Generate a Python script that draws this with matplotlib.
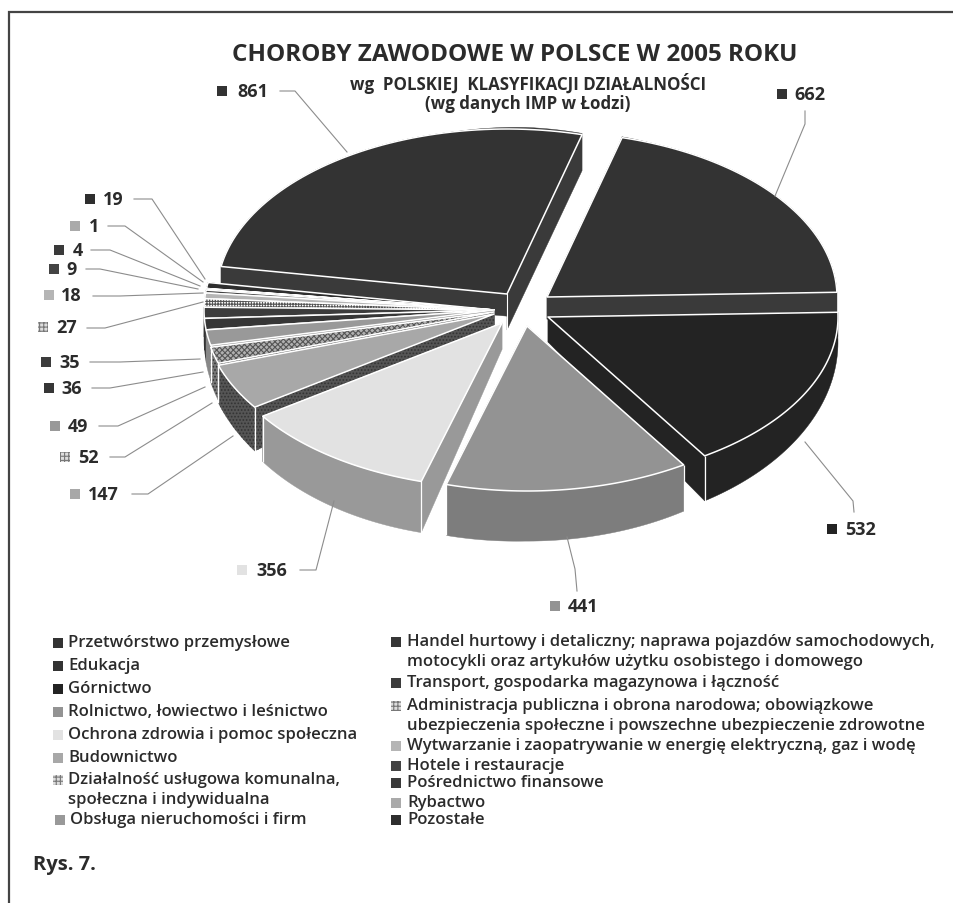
import numpy as np
import matplotlib
matplotlib.use("Agg")
import matplotlib.pyplot as plt
from matplotlib.patches import Polygon, Rectangle

plt.rcParams['font.family'] = ['Open Sans', 'DejaVu Sans']
plt.rcParams['hatch.linewidth'] = 0.8

categories = [
    "Przetwórstwo przemysłowe", "Edukacja", "Górnictwo",
    "Rolnictwo, łowiectwo i leśnictwo", "Ochrona zdrowia i pomoc społeczna",
    "Budownictwo", "Działalność usługowa komunalna,\nspołeczna i indywidualna",
    "Obsługa nieruchomości i firm",
    "Handel hurtowy i detaliczny; naprawa pojazdów samochodowych,\nmotocykli oraz artykułów użytku osobistego i domowego",
    "Transport, gospodarka magazynowa i łączność",
    "Administracja publiczna i obrona narodowa; obowiązkowe\nubezpieczenia społeczne i powszechne ubezpieczenie zdrowotne",
    "Wytwarzanie i zaopatrywanie w energię elektryczną, gaz i wodę",
    "Hotele i restauracje", "Pośrednictwo finansowe", "Rybactwo", "Pozostałe",
]
values = [861, 662, 532, 441, 356, 147, 52, 49, 36, 35, 27, 18, 9, 4, 1, 19]

# styles, same order as values
top_colors = ['#333333', '#333333', '#232323', '#939393', '#e2e2e2', '#a8a8a8', '#b0b0b0', '#999999',
              '#363636', '#3c3c3c', '#ffffff', '#b5b5b5', '#444444', '#3a3a3a', '#aaaaaa', '#2e2e2e']
wall_colors = ['#3a3a3a', '#3a3a3a', '#232323', '#7d7d7d', '#999999', '#555555', '#777777', '#888888',
               '#333333', '#333333', '#999999', '#999999', '#444444', '#3a3a3a', '#999999', '#2e2e2e']
top_hatch = [None, None, None, None, None, None, 'xxxxxx', None,
             None, None, '++++++', None, None, None, None, None]
wall_hatch = [None, None, None, None, None, '.....', '.....', None,
              '.....', None, None, None, None, None, None, None]
offsets = [(-18, -20), (22, -17), (23, 3), (2, 12), (-23, 9), (-31, 0), (-31, -2), (-31, -4),
           (-31, -4), (-31, -4), (-31, -4), (-31, -4), (-31, -4), (-31, -4), (-31, -4), (-31, -4)]
draw_order = [0, 1, 15, 14, 13, 12, 11, 10, 9, 8, 7, 6, 2, 5, 4, 3]

# layout in image pixels
CX, CY, RX, RY = 525, 315, 290, 165
START = -80.4
BACK_DEPTH = 36

label_pos = [(222, 237, 92), (782, 794, 95), (832, 845, 530), (555, 568, 607), (242, 256, 571),
             (75, 88, 495), (65, 78, 458), (55, 68, 427), (49, 61, 389), (46, 59, 363),
             (43, 56, 328), (49, 61, 296), (54, 66, 270), (59, 73, 251), (75, 89, 227), (90, 103, 200)]
leaders = [
    [(280, 92), (295, 92), (347, 153)],
    [(805, 112), (805, 125), (775, 197)],
    [(854, 513), (853, 502), (805, 443)],
    [(577, 592), (575, 570), (567, 538)],
    [(300, 571), (316, 571), (334, 502)],
    [(132, 495), (148, 495), (233, 437)],
    [(110, 458), (125, 458), (212, 404)],
    [(99, 427), (118, 427), (205, 388)],
    [(92, 389), (110, 389), (203, 373)],
    [(90, 363), (120, 363), (200, 360)],
    [(87, 329), (105, 329), (203, 303)],
    [(93, 297), (120, 297), (203, 294)],
    [(86, 270), (100, 270), (198, 290)],
    [(91, 251), (110, 251), (200, 287)],
    [(108, 227), (125, 227), (203, 283)],
    [(134, 200), (152, 200), (205, 280)],
]
legend_pos = [(58, 68, 644), (58, 68, 667), (58, 68, 690), (58, 68, 713), (58, 68, 736), (58, 68, 759),
              (58, 68, 781), (60, 70, 821), (396, 407, 643), (396, 407, 684), (396, 407, 707),
              (396, 407, 747), (396, 407, 767), (396, 407, 784), (396, 407, 804), (396, 407, 821)]


def depth(x, y):
    return 0.144 * (y - 144) + 6 * np.clip((525 - x) / 260, 0, 1)


def patch(ax, pts, face, hatch, hatch_color='#333333'):
    if hatch:
        ax.add_patch(Polygon(pts, closed=True, facecolor=face, edgecolor=hatch_color, hatch=hatch, linewidth=0))
    else:
        ax.add_patch(Polygon(pts, closed=True, facecolor=face, edgecolor=face, linewidth=0.3))


def draw_slice(ax, i, t0, t1):
    ax_x = CX + offsets[i][0]
    ax_y = CY + offsets[i][1]
    t = np.radians(np.linspace(t0, t1, 60))
    rx = ax_x + RX * np.sin(t)
    ry = ax_y - RY * np.cos(t)

    # rim wall
    rim_d = depth(rx, ry)
    rim = list(zip(rx, ry)) + list(zip(rx[::-1], (ry + rim_d)[::-1]))
    patch(ax, rim, wall_colors[i], wall_hatch[i])

    # radial walls
    for k, (ex, ey) in enumerate([(rx[0], ry[0]), (rx[-1], ry[-1])]):
        if i == 0 and k == 1:
            d0 = d1 = BACK_DEPTH
        else:
            d0, d1 = depth(ax_x, ax_y), depth(ex, ey)
        patch(ax, [(ax_x, ax_y), (ex, ey), (ex, ey + d1), (ax_x, ax_y + d0)], wall_colors[i], wall_hatch[i])
        if ey > ax_y + 20:
            ax.plot([ex, ex], [ey, ey + d1], color='white', lw=0.9, solid_capstyle='butt')
    if i == 0:
        ax.plot([ax_x, ax_x], [ax_y, ax_y + BACK_DEPTH], color='white', lw=0.8)

    # top surface
    top = [(ax_x, ax_y)] + list(zip(rx, ry))
    patch(ax, top, top_colors[i], top_hatch[i], '#555555')
    ax.add_patch(Polygon(top, closed=True, fill=False, edgecolor='white', linewidth=1.1, joinstyle='round'))


fig = plt.figure(figsize=(9.54, 9.04), dpi=100)
ax = fig.add_axes([0, 0, 1, 1])
ax.set_xlim(0, 954)
ax.set_ylim(904, 0)
ax.axis('off')

# frame
ax.plot([9, 9, 954], [904, 13, 13], color='#444444', lw=1.6, solid_joinstyle='miter')

angles = START + np.cumsum([0] + values) / sum(values) * 360
for i in draw_order:
    draw_slice(ax, i, angles[i], angles[i + 1])

TEXT = '#2b2b2b'
ax.text(515, 55, "CHOROBY ZAWODOWE W POLSCE W 2005 ROKU", ha='center', va='center',
        fontsize=17.5, fontweight='bold', color=TEXT)
ax.text(528, 83, "wg  POLSKIEJ  KLASYFIKACJI DZIAŁALNOŚCI", ha='center', va='center',
        fontsize=12.2, fontweight='bold', color=TEXT)
ax.text(528, 104, "(wg danych IMP w Łodzi)", ha='center', va='center',
        fontsize=12.2, fontweight='bold', color=TEXT)


def swatch(ax, x, y, i):
    s = 10
    if top_hatch[i]:
        ax.add_patch(Rectangle((x - s / 2, y - s / 2), s, s, facecolor='#dddddd', edgecolor='#777777',
                               hatch='++++', linewidth=0))
    else:
        ax.add_patch(Rectangle((x - s / 2, y - s / 2), s, s, facecolor=top_colors[i], linewidth=0))


for i, v in enumerate(values):
    sx, tx, y = label_pos[i]
    swatch(ax, sx, y, i)
    ax.text(tx, y, str(v), ha='left', va='center', fontsize=13, fontweight='bold', color=TEXT)
    xs, ys = zip(*leaders[i])
    ax.plot(xs, ys, color='#8c8c8c', lw=0.8)

for i, name in enumerate(categories):
    sx, tx, y = legend_pos[i]
    swatch(ax, sx, y, i)
    ax.text(tx, y - 9, name, ha='left', va='top', fontsize=12, fontweight='semibold', color=TEXT,
            linespacing=1.3)

ax.text(33, 865, "Rys. 7.", ha='left', va='center', fontsize=14.5, fontweight='bold', color=TEXT)

fig.savefig("out.png", dpi=100, facecolor='white')
